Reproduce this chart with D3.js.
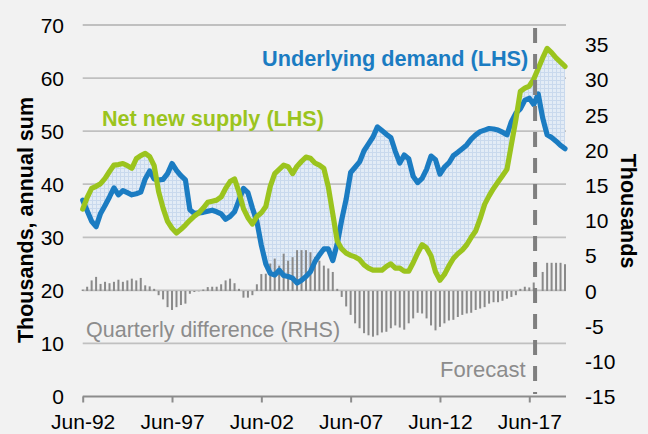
<!DOCTYPE html>
<html>
<head>
<meta charset="utf-8">
<script src="https://cdn.jsdelivr.net/npm/d3@7"></script>
<style>
  html, body { margin: 0; padding: 0; background: #f2f2f2; }
  svg { display: block; font-family: "Liberation Sans", Arial, sans-serif; }
</style>
</head>
<body>
<svg id="chart" width="648" height="434"></svg>
<script>
// ---- Data (quarterly, Jun-92 .. Jun-19) ----
const demand = [
  37.0, 35.0, 33.0, 32.0, 34.5, 36.0, 37.6, 39.3, 38.0, 38.8,
  38.4, 38.0, 38.2, 38.5, 41.0, 42.5, 41.0, 40.8, 40.9, 42.0,
  43.9, 42.6, 41.6, 40.8, 35.2, 34.5, 34.6, 34.7, 34.9, 35.1,
  34.8, 34.4, 33.4, 33.9, 34.8, 37.0, 39.2, 38.4, 35.5, 33.0,
  28.5, 25.0, 23.2, 22.9, 23.8, 22.8, 22.6, 22.3, 21.4, 21.9,
  22.6, 23.5, 25.4, 26.7, 27.8, 27.8, 25.6, 28.8, 33.3, 37.2,
  42.2, 43.2, 44.2, 46.3, 47.6, 48.9, 50.8, 50.1, 49.4, 48.8,
  46.2, 44.0, 45.5, 44.8, 41.5, 40.3, 41.1, 42.8, 45.3, 44.6,
  41.9, 43.2, 44.0, 45.4, 46.0, 46.7, 47.4, 48.5, 49.3, 49.9,
  50.2, 50.5, 50.4, 50.2, 49.8, 49.3, 51.8, 53.4, 54.2, 55.8,
  56.2, 55.0, 57.0, 52.5, 49.3, 48.8, 48.1, 47.3, 46.7
];
const supply = [
  35.3, 37.5, 39.2, 39.6, 40.1, 41.1, 42.4, 43.6, 43.7, 43.9,
  43.5, 43.0, 44.8, 45.4, 45.8, 45.2, 43.5, 38.6, 35.5, 33.0,
  31.7, 30.8, 31.5, 32.3, 33.2, 34.0, 34.6, 35.5, 36.6, 36.8,
  37.0, 37.6, 39.2, 40.5, 41.0, 38.5, 35.4, 33.7, 32.5, 33.9,
  34.6, 35.8, 39.6, 42.0, 42.8, 43.6, 43.3, 42.0, 43.4, 44.3,
  45.1, 44.9, 44.0, 43.6, 43.0, 39.5, 34.4, 29.3, 27.8, 27.0,
  26.6, 26.3, 25.8, 24.8, 24.2, 23.8, 23.8, 23.8, 24.5, 25.0,
  24.2, 24.2, 23.6, 23.6, 25.2, 27.0, 28.6, 28.0, 26.5, 23.5,
  21.9, 23.0, 24.6, 26.0, 26.9, 27.6, 28.6, 30.0, 31.2, 33.5,
  36.2, 37.8, 39.2, 40.4, 41.6, 42.8, 47.5, 52.2, 57.5, 58.1,
  58.5, 59.8, 61.8, 63.8, 65.6, 64.8, 63.8, 63.0, 62.2
];
const quarterlyDiff = [
  0.2, 0.6, 1.5, 2.0, 1.0, 1.3, 1.1, 1.3, 1.6, 1.3,
  1.5, 1.75, 1.5, 1.85, 0.8, 0.65, 0.3, -0.6, -1.2, -2.3,
  -2.7, -2.3, -2.0, -1.8, -0.4, -0.15, -0.05, 0.2, 0.55, 0.6,
  0.6, 0.95, 1.5, 1.75, 1.1, 0.3, -0.95, -0.95, -0.6, 0.95,
  2.4, 2.45, 3.9, 4.6, 3.6, 5.3, 4.3, 4.8, 5.8, 5.8,
  5.8, 5.5, 4.8, 4.3, 3.6, 3.2, 2.7, 0.3, -0.85, -2.2,
  -3.4, -4.6, -5.3, -6.0, -6.3, -6.5, -6.3, -5.9, -5.8, -5.3,
  -4.9, -5.2, -5.5, -4.6, -3.9, -3.1, -3.2, -3.9, -4.9, -5.6,
  -5.1, -4.6, -4.2, -4.1, -3.7, -3.4, -3.2, -3.1, -2.7, -2.5,
  -2.3, -1.8, -1.6, -1.6, -1.4, -1.1, -0.85, -0.6, 0.3, 0.6,
  0.5, 1.2, 0.0, 2.7, 4.0, 4.0, 4.0, 4.0, 3.8
];
const xTickIndex = [0, 20, 40, 60, 80, 100];
const xTickLabels = ["Jun-92", "Jun-97", "Jun-02", "Jun-07", "Jun-12", "Jun-17"];
const leftTicks = [0, 10, 20, 30, 40, 50, 60, 70];
const rightTicks = [-15, -10, -5, 0, 5, 10, 15, 20, 25, 30, 35];
const forecastStart = 101.3; // position (in quarters) of the forecast marker

// ---- Layout ----
const svg = d3.select("#chart");
const plotLeft = 82.7, plotRight = 566, plotTop = 25, plotBottom = 396.5;
const FONT = '"Liberation Sans", Arial, sans-serif';

const x = d3.scaleLinear().domain([0, demand.length - 1]).range([plotLeft, 565]);
const yL = d3.scaleLinear().domain([0, 70]).range([plotBottom, plotTop]);
const yR = d3.scaleLinear().domain([-15, 37.8]).range([plotBottom, plotTop]);

svg.append("rect").attr("width", 648).attr("height", 434).attr("fill", "#f2f2f2");

// pattern for the shaded gap
const defs = svg.append("defs");
const pat = defs.append("pattern").attr("id", "grid").attr("patternUnits", "userSpaceOnUse")
  .attr("width", 4).attr("height", 4);
pat.append("rect").attr("width", 4).attr("height", 4).attr("fill", "#e3ecf6");
pat.append("path").attr("d", "M0,0.5H4M0.5,0V4").attr("stroke", "#c9d9ed").attr("stroke-width", 1);

// gridlines
svg.append("g").selectAll("line").data(leftTicks.filter(v => v > 0)).join("line")
  .attr("x1", plotLeft).attr("x2", plotRight)
  .attr("y1", d => yL(d)).attr("y2", d => yL(d))
  .attr("stroke", "#c0c0c0").attr("stroke-width", 1.8);

// left tick labels
svg.append("g").selectAll("text").data(leftTicks).join("text")
  .attr("x", 64).attr("y", d => yL(d)).attr("dy", "0.36em")
  .attr("text-anchor", "end").attr("font-size", 21).attr("fill", "#000")
  .text(d => d);

// right tick labels
svg.append("g").selectAll("text").data(rightTicks).join("text")
  .attr("x", 585).attr("y", d => yR(d)).attr("dy", "0.36em")
  .attr("text-anchor", "start").attr("font-size", 21).attr("fill", "#000")
  .text(d => d);

// shaded area between the two lines
const area = d3.area()
  .x((d, i) => x(i))
  .y0((d, i) => yL(demand[i]))
  .y1((d, i) => yL(supply[i]));
svg.append("path").datum(demand).attr("d", area).attr("fill", "url(#grid)");

// quarterly difference bars (RHS)
svg.append("g").selectAll("rect").data(quarterlyDiff).join("rect")
  .attr("x", (d, i) => x(i) - 1)
  .attr("width", 2)
  .attr("y", d => Math.min(yR(d), yR(0)))
  .attr("height", d => Math.abs(yR(d) - yR(0)))
  .attr("fill", "#8a8a8a");

// lines
const line = d3.line().x((d, i) => x(i)).y(d => yL(d)).curve(d3.curveLinear);
svg.append("path").datum(demand).attr("d", line)
  .attr("fill", "none").attr("stroke", "#1b7cc2").attr("stroke-width", 5.2)
  .attr("stroke-linejoin", "round").attr("stroke-linecap", "round");
svg.append("path").datum(supply).attr("d", line)
  .attr("fill", "none").attr("stroke", "#9bc41e").attr("stroke-width", 5.2)
  .attr("stroke-linejoin", "round").attr("stroke-linecap", "round");

// forecast marker
svg.append("line")
  .attr("x1", x(forecastStart)).attr("x2", x(forecastStart))
  .attr("y1", 28).attr("y2", 394)
  .attr("stroke", "#7f7f7f").attr("stroke-width", 4)
  .attr("stroke-dasharray", "15,11");

// bottom axis
svg.append("line").attr("x1", plotLeft).attr("x2", plotRight)
  .attr("y1", plotBottom).attr("y2", plotBottom)
  .attr("stroke", "#8c8c8c").attr("stroke-width", 2);
const xAxis = d3.axisBottom(x).tickValues(xTickIndex)
  .tickFormat((d, i) => xTickLabels[i]).tickSize(6).tickPadding(12);
const gx = svg.append("g").attr("transform", `translate(0,${plotBottom})`).call(xAxis);
gx.select(".domain").remove();
gx.selectAll(".tick line").attr("stroke", "#8c8c8c").attr("stroke-width", 2);
gx.selectAll(".tick text").attr("font-size", 21).attr("font-family", FONT).attr("fill", "#000");

// axis titles
svg.append("text")
  .attr("transform", "translate(33,220) rotate(-90)")
  .attr("text-anchor", "middle").attr("font-size", 21.5).attr("font-weight", "bold")
  .attr("fill", "#000").text("Thousands, annual sum");
svg.append("text")
  .attr("transform", "translate(621,211) rotate(90)")
  .attr("text-anchor", "middle").attr("font-size", 21.5).attr("font-weight", "bold")
  .attr("fill", "#000").text("Thousands");

// annotations
svg.append("text").attr("x", 262).attr("y", 66)
  .attr("font-size", 21.7).attr("font-weight", "bold").attr("fill", "#1b7cc2")
  .text("Underlying demand (LHS)");
svg.append("text").attr("x", 102).attr("y", 126)
  .attr("font-size", 21.6).attr("font-weight", "bold").attr("fill", "#9bc41e")
  .text("Net new supply (LHS)");
svg.append("text").attr("x", 86).attr("y", 337)
  .attr("font-size", 21.5).attr("fill", "#8c8c8c")
  .text("Quarterly difference (RHS)");
svg.append("text").attr("x", 440).attr("y", 377)
  .attr("font-size", 22).attr("fill", "#8c8c8c")
  .text("Forecast");
</script>
</body>
</html>
